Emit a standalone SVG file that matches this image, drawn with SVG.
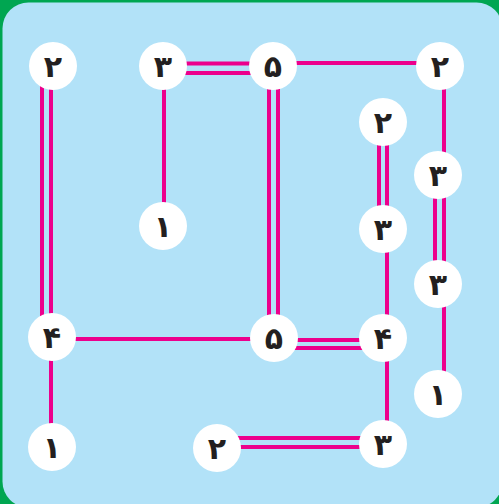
<svg xmlns="http://www.w3.org/2000/svg" width="499" height="504" viewBox="0 0 499 504">
  <style>
    .br { stroke: #ec008c; stroke-width: 4; fill: none; }
    .isle circle { fill: #ffffff; }
    .isle text { font-family: "DejaVu Sans", "Noto Sans", sans-serif; font-weight: bold; font-size: 30px; fill: #231f20; text-anchor: middle; }
  </style>
  <rect x="0" y="0" width="499" height="504" fill="#00a651"/>
  <rect x="2.5" y="2.5" width="500" height="505" rx="26" ry="26" fill="#b2e2f8"/>

  <g id="bridges">
    <!-- left column -->
    <line class="br" x1="42" y1="66" x2="42" y2="337"/>
    <line class="br" x1="51" y1="66" x2="51" y2="337"/>
    <line class="br" x1="51" y1="337" x2="51" y2="447"/>
    <!-- top row -->
    <line class="br" x1="163" y1="63.5" x2="273" y2="63.5"/>
    <line class="br" x1="163" y1="73" x2="273" y2="73"/>
    <line class="br" x1="273" y1="63" x2="440" y2="63"/>
    <line class="br" x1="164" y1="66" x2="164" y2="226"/>
    <!-- middle column -->
    <line class="br" x1="269" y1="66" x2="269" y2="339"/>
    <line class="br" x1="278" y1="66" x2="278" y2="339"/>
    <line class="br" x1="52" y1="339" x2="273" y2="339"/>
    <line class="br" x1="273" y1="340" x2="383" y2="340"/>
    <line class="br" x1="273" y1="348" x2="383" y2="348"/>
    <!-- inner right column -->
    <line class="br" x1="379" y1="122" x2="379" y2="229"/>
    <line class="br" x1="387" y1="122" x2="387" y2="229"/>
    <line class="br" x1="387" y1="229" x2="387" y2="338"/>
    <line class="br" x1="387" y1="338" x2="387" y2="444"/>
    <!-- outer right column -->
    <line class="br" x1="444" y1="66" x2="444" y2="175"/>
    <line class="br" x1="435" y1="175" x2="435" y2="284"/>
    <line class="br" x1="444" y1="175" x2="444" y2="284"/>
    <line class="br" x1="444" y1="284" x2="444" y2="394"/>
    <!-- bottom row -->
    <line class="br" x1="217" y1="438" x2="383" y2="438"/>
    <line class="br" x1="217" y1="447" x2="383" y2="447"/>
  </g>

  <g id="n1" class="isle"><circle cx="53" cy="66" r="24"/><text x="53" y="77">۲</text></g>
  <g id="n2" class="isle"><circle cx="163" cy="66" r="24"/><text x="163" y="77">۳</text></g>
  <g id="n3" class="isle"><circle cx="163" cy="226" r="24"/><text x="163" y="237">۱</text></g>
  <g id="n4" class="isle"><circle cx="273" cy="66" r="24"/><text x="273" y="77">۵</text></g>
  <g id="n5" class="isle"><circle cx="440" cy="66" r="24"/><text x="440" y="77">۲</text></g>
  <g id="n6" class="isle"><circle cx="383" cy="122" r="24"/><text x="383" y="133">۲</text></g>
  <g id="n7" class="isle"><circle cx="438" cy="175" r="24"/><text x="438" y="186">۳</text></g>
  <g id="n8" class="isle"><circle cx="383" cy="229" r="24"/><text x="383" y="240">۳</text></g>
  <g id="n9" class="isle"><circle cx="438" cy="284" r="24"/><text x="438" y="295">۳</text></g>
  <g id="n10" class="isle"><circle cx="52" cy="337" r="24"/><text x="52" y="348">۴</text></g>
  <g id="n11" class="isle"><circle cx="274" cy="338" r="24"/><text x="274" y="349">۵</text></g>
  <g id="n12" class="isle"><circle cx="383" cy="338" r="24"/><text x="383" y="349">۴</text></g>
  <g id="n13" class="isle"><circle cx="438" cy="394" r="24"/><text x="438" y="405">۱</text></g>
  <g id="n14" class="isle"><circle cx="52" cy="447" r="24"/><text x="52" y="458">۱</text></g>
  <g id="n15" class="isle"><circle cx="217" cy="448" r="24"/><text x="217" y="459">۲</text></g>
  <g id="n16" class="isle"><circle cx="383" cy="444" r="24"/><text x="383" y="455">۳</text></g>
</svg>
